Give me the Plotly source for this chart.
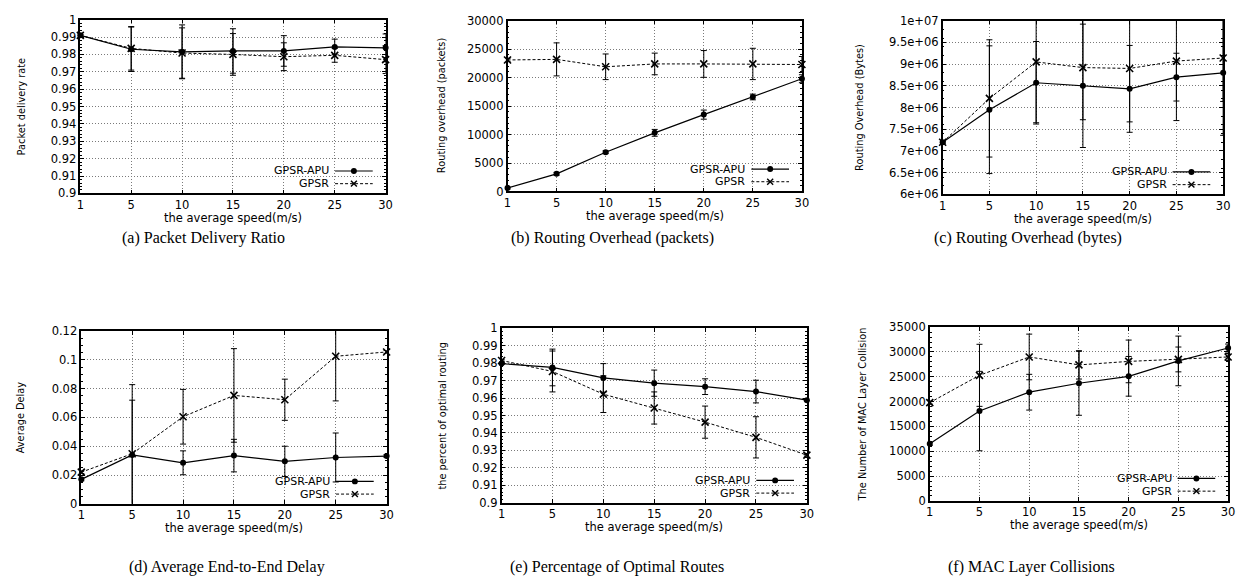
import plotly.graph_objects as go

W, H = 1248, 586

speeds = ["1", "5", "10", "15", "20", "25", "30"]

# (a) Packet delivery ratio
pdr_apu = [0.991, 0.983, 0.9815, 0.982, 0.982, 0.9843, 0.9838]
pdr_gpsr = [0.991, 0.9835, 0.9808, 0.9800, 0.9787, 0.9795, 0.9770]
pdr_apu_err = [0.0005, 0.0128, 0.0155, 0.0128, 0.0088, 0.0045, 0.0080]
pdr_gpsr_err = [0.0005, 0.0125, 0.0145, 0.0120, 0.0080, 0.0040, 0.0080]

# (b) Routing overhead (packets)
rop_apu = [600, 3100, 6900, 10300, 13500, 16600, 19800]
rop_gpsr = [23100, 23200, 21900, 22400, 22400, 22400, 22300]
rop_apu_err = [150, 250, 250, 600, 800, 500, 700]
rop_gpsr_err = [300, 2900, 2250, 1900, 2350, 2750, 1400]

# (c) Routing overhead (bytes)
rob_apu = [7.2e6, 7.95e6, 8.57e6, 8.50e6, 8.43e6, 8.70e6, 8.80e6]
rob_gpsr = [7.2e6, 8.21e6, 9.05e6, 8.92e6, 8.90e6, 9.07e6, 9.14e6]
rob_apu_err = [0.02e6, 1.47e6, 0.95e6, 1.42e6, 1.0e6, 0.55e6, 1.44e6]
rob_gpsr_err = [0.02e6, 1.35e6, 1.40e6, 1.20e6, 1.23e6, 1.37e6, 1.0e6]

# (d) Average delay
del_apu = [0.017, 0.034, 0.0285, 0.0335, 0.0295, 0.0322, 0.0332]
del_gpsr = [0.022, 0.0348, 0.0605, 0.0753, 0.0723, 0.1025, 0.1055]
del_apu_err = [0.001, 0.038, 0.0083, 0.0113, 0.0105, 0.017, 0.001]
del_gpsr_err = [0.001, 0.048, 0.019, 0.0325, 0.0143, 0.031, 0.001]

# (e) Optimal routes
opt_apu = [0.9797, 0.9775, 0.9715, 0.9685, 0.9665, 0.9637, 0.9588]
opt_gpsr = [0.9815, 0.9752, 0.9622, 0.9543, 0.9462, 0.9375, 0.9273]
opt_apu_err = [0.0005, 0.0105, 0.0082, 0.0075, 0.0045, 0.0065, 0.0005]
opt_gpsr_err = [0.0005, 0.0117, 0.0105, 0.0092, 0.0092, 0.0118, 0.0005]

# (f) MAC layer collisions
mac_apu = [11500, 18100, 21900, 23700, 25100, 28200, 30800]
mac_gpsr = [19800, 25300, 29000, 27400, 28100, 28500, 29000]
mac_apu_err = [300, 8000, 3600, 6450, 4000, 5000, 800]
mac_gpsr_err = [300, 6250, 4600, 2850, 4300, 2500, 700]

bytes_ticks = [6e6, 6.5e6, 7e6, 7.5e6, 8e6, 8.5e6, 9e6, 9.5e6, 1e7]
bytes_labels = ["6e+06", "6.5e+06", "7e+06", "7.5e+06", "8e+06",
                "8.5e+06", "9e+06", "9.5e+06", "1e+07"]

series_names = ["GPSR-APU", "GPSR"]
x_title = "the average speed(m/s)"

panels = [
    dict(apu=pdr_apu, gpsr=pdr_gpsr, ea=pdr_apu_err, eg=pdr_gpsr_err,
         ytitle="Packet delivery rate", caption="(a) Packet Delivery Ratio",
         yrange=[0.9, 1.0], dtick=0.01, fmt=None,
         box=(77, 385, 13, 191), ytx=18, cap=(201, 237)),
    dict(apu=rop_apu, gpsr=rop_gpsr, ea=rop_apu_err, eg=rop_gpsr_err,
         ytitle="Routing overhead (packets)", caption="(b) Routing Overhead (packets)",
         yrange=[0, 30000], dtick=5000, fmt="d",
         box=(508, 805, 14, 189), ytx=441, cap=(614, 237)),
    dict(apu=rob_apu, gpsr=rob_gpsr, ea=rob_apu_err, eg=rob_gpsr_err,
         ytitle="Routing Overhead (Bytes)", caption="(c) Routing Overhead (bytes)",
         yrange=[6e6, 1e7], dtick=5e5, fmt="sci",
         box=(947, 1230, 14, 192), ytx=863, cap=(1033, 237)),
    dict(apu=del_apu, gpsr=del_gpsr, ea=del_apu_err, eg=del_gpsr_err,
         ytitle="Average Delay", caption="(d) Average End-to-End Delay",
         yrange=[0, 0.12], dtick=0.02, fmt=None,
         box=(78, 386, 332, 509), ytx=17, cap=(225, 574)),
    dict(apu=opt_apu, gpsr=opt_gpsr, ea=opt_apu_err, eg=opt_gpsr_err,
         ytitle="the percent of optimal routing", caption="(e) Percentage of Optimal Routes",
         yrange=[0.9, 1.0], dtick=0.01, fmt=None,
         box=(502, 810, 329, 508), ytx=442, cap=(618, 574)),
    dict(apu=mac_apu, gpsr=mac_gpsr, ea=mac_apu_err, eg=mac_gpsr_err,
         ytitle="The Number of MAC Layer Collision", caption="(f) MAC Layer Collisions",
         yrange=[0, 35000], dtick=5000, fmt="d",
         box=(934, 1235, 328, 506), ytx=866, cap=(1037, 574)),
]

SANS = "DejaVu Sans, Liberation Sans, sans-serif"
SERIF = "Liberation Serif, Times New Roman, serif"
GRID = dict(showgrid=True, gridcolor="#7a7a7a", griddash="1px,2px", gridwidth=1)

fig = go.Figure()
shapes = []
annotations = []


def px(x):
    return x / W


def py(y):
    return 1 - y / H


for i, p in enumerate(panels):
    k = "" if i == 0 else str(i + 1)
    xa, ya = "x" + k, "y" + k
    l, r, t, b = p["box"]

    fig.add_trace(go.Scatter(
        x=speeds, y=p["apu"], xaxis=xa, yaxis=ya, name=series_names[0],
        mode="lines+markers", showlegend=False, cliponaxis=False,
        line=dict(color="black", width=1.2),
        marker=dict(symbol="circle", size=6, color="black"),
        error_y=dict(type="data", array=p["ea"], color="black", thickness=1, width=3)))
    fig.add_trace(go.Scatter(
        x=speeds, y=p["gpsr"], xaxis=xa, yaxis=ya, name=series_names[1],
        mode="lines+markers", showlegend=False, cliponaxis=False,
        line=dict(color="black", width=1, dash="3px,2px"),
        marker=dict(symbol="x-thin", size=7, color="black", line=dict(width=1.6, color="black")),
        error_y=dict(type="data", array=p["eg"], color="black", thickness=1, width=3)))

    yax = dict(
        domain=[py(b), py(t)], range=p["yrange"], dtick=p["dtick"], anchor=xa,
        showline=True, linecolor="black", linewidth=1.5, mirror="allticks",
        ticks="inside", ticklen=4, tickcolor="black", tickwidth=1,
        zeroline=False, tickfont=dict(family=SANS, size=11.5, color="black"),
        minor=dict(ticks="inside", ticklen=2, tickcolor="black", nticks=5, showgrid=False),
        **GRID,
    )
    if p["fmt"] == "d":
        yax["tickformat"] = "d"
    elif p["fmt"] == "sci":
        yax["tickvals"] = bytes_ticks
        yax["ticktext"] = bytes_labels
    xax = dict(
        domain=[px(l), px(r)], type="category", range=[0, 6], anchor=ya,
        showline=True, linecolor="black", linewidth=1.5, mirror="allticks",
        ticks="inside", ticklen=4, tickcolor="black", tickwidth=1,
        zeroline=False, tickfont=dict(family=SANS, size=11.5, color="black"),
        **GRID,
    )
    fig.update_layout(**{"xaxis" + k: xax, "yaxis" + k: yax})

    # axis titles
    annotations.append(dict(x=px((l + r) / 2), y=py(b + 25), xref="paper", yref="paper",
                            text=x_title, showarrow=False, xanchor="center", yanchor="middle",
                            font=dict(family=SANS, size=11.5, color="black")))
    annotations.append(dict(x=px(p["ytx"]), y=py((t + b) / 2), xref="paper", yref="paper",
                            text=p["ytitle"], showarrow=False, textangle=-90,
                            xanchor="center", yanchor="middle",
                            font=dict(family=SANS, size=9.8, color="black")))
    # caption
    annotations.append(dict(x=px(p["cap"][0]), y=py(p["cap"][1]), xref="paper", yref="paper",
                            text=p["caption"], showarrow=False, xanchor="center", yanchor="middle",
                            font=dict(family=SERIF, size=16, color="black")))

    # manual gnuplot-style key (text then sample)
    rows = [(b - 23, "solid"), (b - 10, "dash")]
    for (yy, style), nm in zip(rows, series_names):
        annotations.append(dict(x=px(r - 55), y=py(yy), xref="paper", yref="paper",
                                text=nm, showarrow=False, xanchor="right", yanchor="middle",
                                font=dict(family=SANS, size=11, color="black")))
        x0, x1 = r - 51, r - 13
        shapes.append(dict(type="line", xref="paper", yref="paper",
                           x0=px(x0), x1=px(x1), y0=py(yy), y1=py(yy),
                           line=dict(color="black", width=1.2 if style == "solid" else 1,
                                     dash="solid" if style == "solid" else "3px,2px")))
        cx = (x0 + x1) / 2
        if style == "solid":
            shapes.append(dict(type="circle", xref="paper", yref="paper",
                               x0=px(cx - 3), x1=px(cx + 3), y0=py(yy + 3), y1=py(yy - 3),
                               fillcolor="black", line=dict(color="black", width=0)))
        else:
            for d in (1, -1):
                shapes.append(dict(type="line", xref="paper", yref="paper",
                                   x0=px(cx - 3), x1=px(cx + 3), y0=py(yy - 3 * d), y1=py(yy + 3 * d),
                                   line=dict(color="black", width=1.4)))

fig.update_layout(
    width=W, height=H, margin=dict(l=0, r=0, t=0, b=0),
    paper_bgcolor="white", plot_bgcolor="white",
    showlegend=False, shapes=shapes, annotations=annotations,
)

fig.write_html("out.html", config={"displayModeBar": False},
               post_script="document.body.style.margin='0px';")
